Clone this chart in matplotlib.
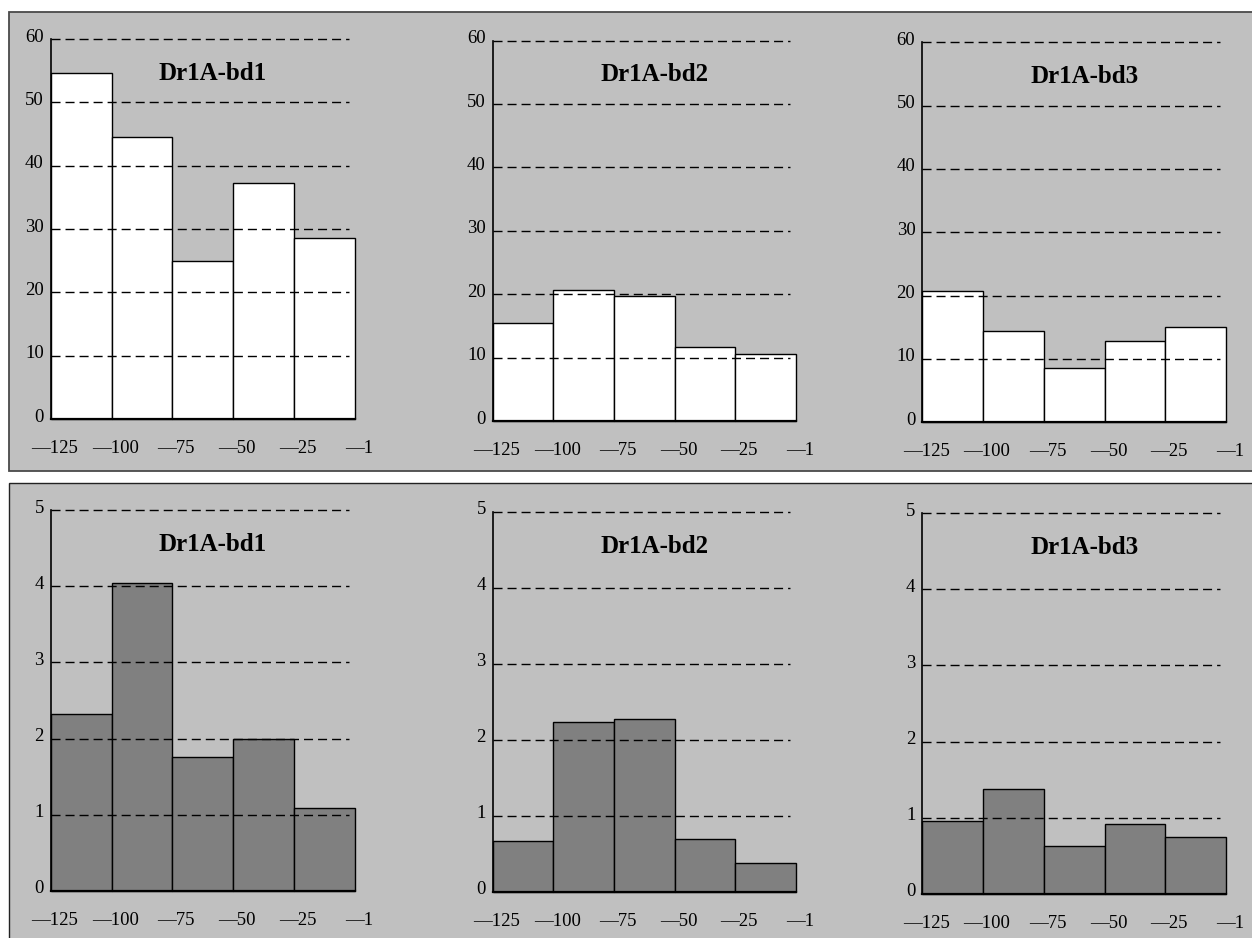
import matplotlib
matplotlib.use("Agg")
import matplotlib.pyplot as plt
from matplotlib.patches import Rectangle
from matplotlib.transforms import ScaledTranslation

# ---- data ----
bin_labels = ["\u2014125", "\u2014100", "\u201475", "\u201450", "\u201425", "\u20141"]
titles = ["Dr1A-bd1", "Dr1A-bd2", "Dr1A-bd3"]
top_bd1 = [54.7, 44.6, 25.0, 37.3, 28.6]
top_bd2 = [15.4, 20.6, 19.7, 11.6, 10.6]
top_bd3 = [20.8, 14.4, 8.5, 12.9, 15.0]
bot_bd1 = [2.32, 4.04, 1.76, 2.00, 1.09]
bot_bd2 = [0.67, 2.23, 2.27, 0.70, 0.38]
bot_bd3 = [0.96, 1.37, 0.63, 0.91, 0.74]
top_ticks = [0, 10, 20, 30, 40, 50, 60]
bot_ticks = [0, 1, 2, 3, 4, 5]

W, H = 1252, 938
fig = plt.figure(figsize=(W / 100, H / 100), dpi=100)
fig.patch.set_facecolor("white")

serif = ["Liberation Serif", "DejaVu Serif"]
BG = "#c0c0c0"

# background boxes (figure pixel coords -> fraction)
def px_rect(x0, y0, x1, y1, ec, lw):
    r = Rectangle((x0 / W, 1 - y1 / H), (x1 - x0) / W, (y1 - y0) / H,
                  transform=fig.transFigure, facecolor=BG, edgecolor=ec,
                  linewidth=lw, zorder=-10)
    fig.patches.append(r)

px_rect(9, 11.7, 1262, 470.7, "#4a4a4a", 1.3)
px_rect(9, 483.3, 1262, 950, "#222222", 1.0)

# axes positions in pixels: (x_axis, y_zero, y_top, x_right)
positions = [
    (50.7, 419.0, 39.0, 354.7),
    (492.7, 421.0, 40.7, 796.0),
    (922.3, 422.3, 42.3, 1226.0),
    (50.7, 890.7, 510.3, 354.7),
    (492.7, 891.7, 512.0, 796.0),
    (922.3, 893.7, 513.3, 1226.0),
]
series = [top_bd1, top_bd2, top_bd3, bot_bd1, bot_bd2, bot_bd3]
facecolors = ["white"] * 3 + ["#808080"] * 3

for i, (vals, pos) in enumerate(zip(series, positions)):
    x0, yz, yt, x1 = pos
    ax = fig.add_axes([x0 / W, 1 - yz / H, (x1 - x0) / W, (yz - yt) / H])
    ax.set_zorder(1)
    ax.set_facecolor("none")
    ticks = top_ticks if i < 3 else bot_ticks
    ymax = ticks[-1]
    ax.set_xlim(0, len(vals))
    ax.set_ylim(0, ymax)

    # gridlines (dashed), drawn over bars
    gx_end = len(vals) * 0.981
    for t in ticks[1:]:
        ax.plot([0, gx_end], [t, t], color="black",
                linestyle=(0, (6.5, 3.6)), linewidth=1.0, zorder=3,
                clip_on=False)

    bars = ax.bar(range(len(vals)), vals, width=1.0, align="edge",
                  color=facecolors[i], edgecolor="black", linewidth=1.0,
                  zorder=2)
    for b in bars:
        b.set_clip_on(False)

    for s in ["top", "right"]:
        ax.spines[s].set_visible(False)
    ax.spines["left"].set_linewidth(1.2)
    ax.spines["bottom"].set_linewidth(1.6)
    ax.spines["left"].set_zorder(4)
    ax.spines["bottom"].set_zorder(4)

    ax.set_yticks(ticks)
    ax.set_yticklabels([str(t) for t in ticks], fontsize=13.5, family=serif)
    ax.tick_params(axis="y", length=0, pad=5)
    for lab in ax.get_yticklabels():
        lab.set_verticalalignment("baseline")
        lab.set_transform(lab.get_transform() +
                          ScaledTranslation(0, -2.5 / 100, fig.dpi_scale_trans))

    ax.set_xticks(range(len(bin_labels)))
    ax.set_xticklabels(bin_labels, fontsize=13.5, family=serif)
    ax.tick_params(axis="x", length=0, pad=15)
    for lab in ax.get_xticklabels():
        lab.set_transform(lab.get_transform() +
                          ScaledTranslation(4 / 100, 0, fig.dpi_scale_trans))

    ax.text(0.534, 0.91, titles[i % 3], transform=ax.transAxes,
            ha="center", va="center", fontsize=18, fontweight="bold",
            family=serif)

fig.savefig("out.png", dpi=100, facecolor="white")
